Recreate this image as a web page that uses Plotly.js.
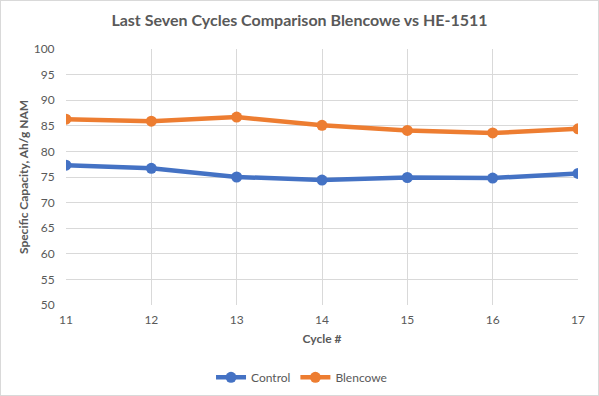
<!DOCTYPE html>
<html>
<head>
<meta charset="utf-8">
<script src="https://cdn.plot.ly/plotly-3.0.1.min.js"></script>
<style>
  html, body { margin: 0; padding: 0; background: #fff; }
  #chart { width: 597px; height: 394px; border: 1px solid #d9d9d9; }
</style>
</head>
<body>
<div id="chart"></div>
<script>
const cycles = [11, 12, 13, 14, 15, 16, 17];
const control = [77.3, 76.7, 75.0, 74.4, 74.9, 74.8, 75.7];
const blencowe = [86.3, 85.9, 86.7, 85.1, 84.1, 83.6, 84.4];

const font = "Lato, 'Open Sans', sans-serif";
const traces = [
  { x: cycles, y: control, name: 'Control', type: 'scatter', mode: 'lines+markers',
    line: { color: '#4472C4', width: 4.5 }, marker: { color: '#4472C4', size: 11 } },
  { x: cycles, y: blencowe, name: 'Blencowe', type: 'scatter', mode: 'lines+markers',
    line: { color: '#ED7D31', width: 4.5 }, marker: { color: '#ED7D31', size: 11 } }
];
const layout = {
  width: 597, height: 394,
  margin: { l: 65, r: 20, t: 48, b: 90, autoexpand: false },
  paper_bgcolor: '#fff', plot_bgcolor: '#fff',
  font: { family: font, color: '#595959', size: 12 },
  title: { text: '<b>Last Seven Cycles Comparison Blencowe vs HE-1511</b>',
           font: { family: font, size: 16, color: '#595959' },
           x: 0.5, xanchor: 'center', y: 0.95, yanchor: 'middle' },
  xaxis: { range: [11, 17], dtick: 1, tick0: 11, showgrid: true, gridcolor: '#d9d9d9',
           zeroline: false, showline: false, ticks: 'outside', ticklen: 4, tickcolor: 'rgba(0,0,0,0)',
           tickfont: { size: 12 },
           title: { text: '<b>Cycle #</b>', font: { size: 12, color: '#595959' }, standoff: 8 } },
  yaxis: { range: [50, 100], dtick: 5, tick0: 50, showgrid: true, gridcolor: '#d9d9d9',
           zeroline: false, showline: false, ticks: 'outside', ticklen: 8, tickcolor: 'rgba(0,0,0,0)',
           tickfont: { size: 12 },
           title: { text: '<b>Specific Capacity, Ah/g NAM</b>', font: { size: 12, color: '#595959' }, standoff: 2 } },
  legend: { orientation: 'h', x: 0.46, xanchor: 'center', yref: 'container', y: 0.045, yanchor: 'middle',
            font: { size: 12, color: '#595959' } },
  showlegend: true
};
Plotly.newPlot('chart', traces, layout, { displayModeBar: false, staticPlot: true });
</script>
</body>
</html>
